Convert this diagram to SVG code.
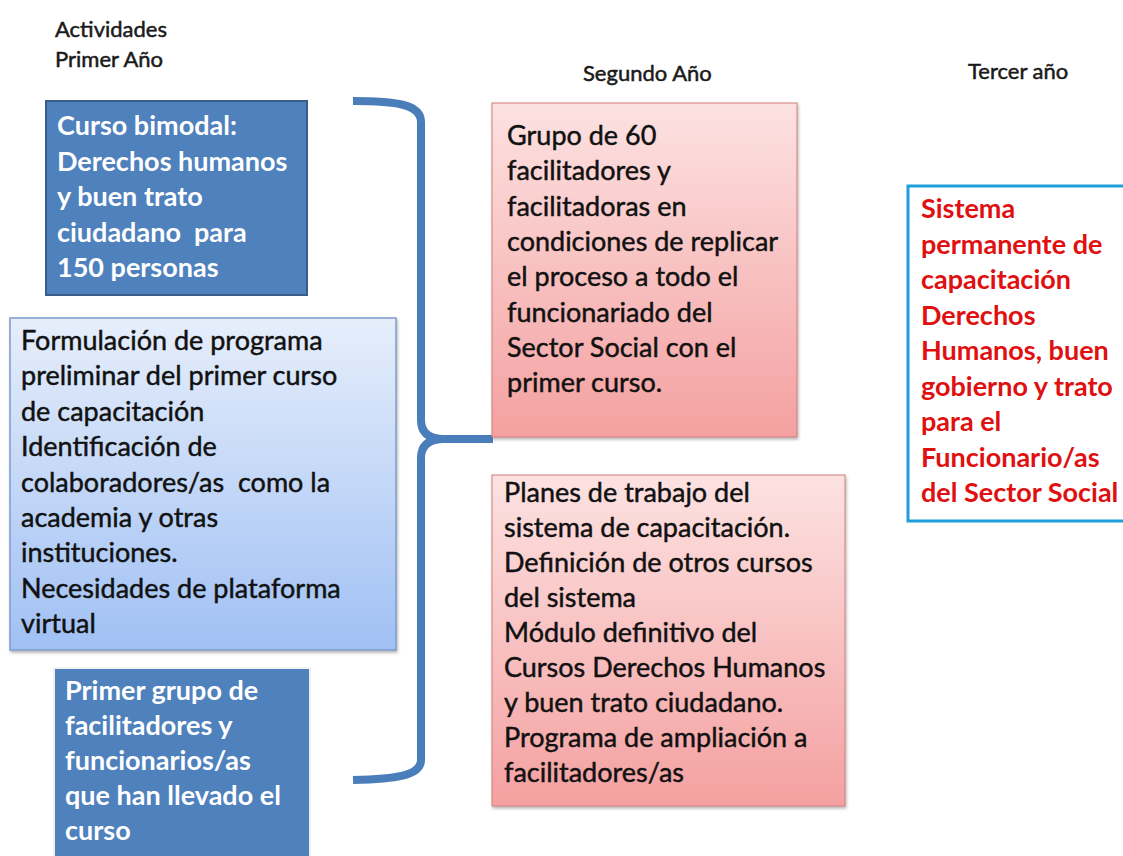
<svg xmlns="http://www.w3.org/2000/svg" width="1123" height="856" viewBox="0 0 1123 856">
<style>
  text { font-family: Lato, "Open Sans", "Liberation Sans", sans-serif; white-space: pre; }
  .hdr { font-size: 22px; fill: #1a1a1a; stroke: #1a1a1a; stroke-width: 0.5; }
  .body { font-size: 27px; fill: #111; stroke: #111; stroke-width: 0.45; }
  .wb { font-size: 27px; font-weight: 700; fill: #ffffff; }
  .rb { font-size: 27px; font-weight: 700; fill: #e01010; }
  .blue { fill: #4f81bd; }
  .brace { fill: none; stroke: #4a7ebb; stroke-width: 8; stroke-linecap: butt; stroke-linejoin: round; }
</style>
<defs>
  <linearGradient id="gBlue" x1="0" y1="0" x2="0" y2="1">
    <stop offset="0" stop-color="#e6eefb"/>
    <stop offset="1" stop-color="#a0c0f4"/>
  </linearGradient>
  <linearGradient id="gRed" x1="0" y1="0" x2="0" y2="1">
    <stop offset="0" stop-color="#fde2e2"/>
    <stop offset="1" stop-color="#f4a0a0"/>
  </linearGradient>
  <filter id="sh" x="-5%" y="-5%" width="110%" height="110%">
    <feDropShadow dx="1" dy="2" stdDeviation="1.5" flood-color="#000" flood-opacity="0.3"/>
  </filter>
</defs>
<rect width="1123" height="856" fill="#ffffff"/>

<g id="headers">
  <text class="hdr" x="55" y="37">Actividades</text>
  <text class="hdr" x="55" y="67">Primer Año</text>
  <text class="hdr" x="583" y="81">Segundo Año</text>
  <text class="hdr" x="968" y="79">Tercer año</text>
</g>

<g id="connectors">
  <path class="brace" d="M353,101 C395,101 421,104 421,122 L421,420 Q421,438 442,439 L493,439"/>
  <path class="brace" d="M442,439 Q421,440 421,458 L421,760 C421,776 395,779 353,780"/>
</g>

<g id="box-curso-bimodal">
  <rect x="46" y="101" width="261" height="194" class="blue" stroke="#385d8a" stroke-width="2"/>
  <text class="wb" x="57" y="135">Curso bimodal:</text>
  <text class="wb" x="57" y="171">Derechos humanos</text>
  <text class="wb" x="57" y="206">y buen trato</text>
  <text class="wb" x="57" y="242">ciudadano  para</text>
  <text class="wb" x="57" y="277">150 personas</text>
</g>

<g id="box-formulacion">
  <rect x="10" y="318" width="386" height="332" fill="url(#gBlue)" stroke="#7d9ccc" stroke-width="1.5" filter="url(#sh)"/>
  <text class="body" x="21" y="350">Formulación de programa</text>
  <text class="body" x="21" y="385">preliminar del primer curso</text>
  <text class="body" x="21" y="421">de capacitación</text>
  <text class="body" x="21" y="456">Identificación de</text>
  <text class="body" x="21" y="492">colaboradores/as  como la</text>
  <text class="body" x="21" y="527">academia y otras</text>
  <text class="body" x="21" y="562">instituciones.</text>
  <text class="body" x="21" y="598">Necesidades de plataforma</text>
  <text class="body" x="21" y="633">virtual</text>
</g>

<g id="box-primer-grupo">
  <rect x="54" y="668" width="256" height="190" class="blue" stroke="#f0f0f0" stroke-width="2"/>
  <text class="wb" x="65" y="700">Primer grupo de</text>
  <text class="wb" x="65" y="735">facilitadores y</text>
  <text class="wb" x="65" y="770">funcionarios/as</text>
  <text class="wb" x="65" y="805">que han llevado el</text>
  <text class="wb" x="65" y="840">curso</text>
</g>

<g id="box-grupo-60">
  <rect x="492" y="103" width="305" height="334" fill="url(#gRed)" stroke="#d07c7a" stroke-width="1" filter="url(#sh)"/>
  <text class="body" x="507" y="145">Grupo de 60</text>
  <text class="body" x="507" y="180">facilitadores y</text>
  <text class="body" x="507" y="216">facilitadoras en</text>
  <text class="body" x="507" y="251">condiciones de replicar</text>
  <text class="body" x="507" y="286">el proceso a todo el</text>
  <text class="body" x="507" y="322">funcionariado del</text>
  <text class="body" x="507" y="357">Sector Social con el</text>
  <text class="body" x="507" y="392">primer curso.</text>
</g>

<g id="box-planes">
  <rect x="492" y="475" width="353" height="331" fill="url(#gRed)" stroke="#d07c7a" stroke-width="1" filter="url(#sh)"/>
  <text class="body" x="504" y="502">Planes de trabajo del</text>
  <text class="body" x="504" y="537">sistema de capacitación.</text>
  <text class="body" x="504" y="572">Definición de otros cursos</text>
  <text class="body" x="504" y="607">del sistema</text>
  <text class="body" x="504" y="642">Módulo definitivo del</text>
  <text class="body" x="504" y="677">Cursos Derechos Humanos</text>
  <text class="body" x="504" y="712">y buen trato ciudadano.</text>
  <text class="body" x="504" y="747">Programa de ampliación a</text>
  <text class="body" x="504" y="782">facilitadores/as</text>
</g>

<g id="box-sistema">
  <rect x="908" y="186" width="220" height="335" fill="#ffffff" stroke="#1e9fdc" stroke-width="3"/>
  <text class="rb" x="921" y="218">Sistema</text>
  <text class="rb" x="921" y="254">permanente de</text>
  <text class="rb" x="921" y="289">capacitación</text>
  <text class="rb" x="921" y="325">Derechos</text>
  <text class="rb" x="921" y="360">Humanos, buen</text>
  <text class="rb" x="921" y="396">gobierno y trato</text>
  <text class="rb" x="921" y="431">para el</text>
  <text class="rb" x="921" y="467">Funcionario/as</text>
  <text class="rb" x="921" y="502">del Sector Social</text>
</g>
</svg>
